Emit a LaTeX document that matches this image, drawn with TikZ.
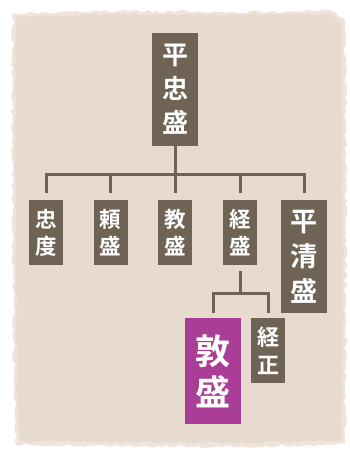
\documentclass[tikz,border=0pt]{standalone}
\usepackage{fontspec}
\newfontfamily\cjk{Noto Sans CJK JP}[BoldFont={* Bold}]
\usetikzlibrary{decorations.pathmorphing}
\definecolor{paper}{RGB}{231,218,206}
\definecolor{paperedge}{RGB}{238,228,218}
\definecolor{boxc}{RGB}{111,99,85}
\definecolor{purp}{RGB}{170,62,150}
\tikzset{
  conn/.style={draw=boxc, line width=3pt},
  person/.style={fill=boxc, text=white, inner sep=0pt, align=center,
    minimum width=34pt, minimum height=65pt,
    font=\cjk\bfseries\fontsize{21.5}{27}\selectfont},
  bigperson/.style={person, minimum width=46pt, minimum height=113pt,
    font=\cjk\bfseries\fontsize{26}{34}\selectfont},
}
\begin{document}
\begin{tikzpicture}[x=1pt,y=-1pt]
\useasboundingbox (0,0) rectangle (350,450);
\fill[white] (0,0) rectangle (350,450);
\pgfmathsetseed{7}
\fill[paperedge, decorate, decoration={random steps, segment length=4pt, amplitude=1.5pt}]
  (13,14) -- (120,11) -- (230,12) -- (332,11) -- (345,20) -- (346,120) -- (346,300) -- (345,444)
  -- (250,447) -- (120,446) -- (16,445) -- (14,380) -- (13,250) -- (12,120) -- cycle;
\fill[paper, decorate, decoration={random steps, segment length=5pt, amplitude=1pt}]
  (16,17) -- (120,14) -- (230,15) -- (330,14) -- (341,23) -- (342,120) -- (343,300) -- (341,440)
  -- (250,443) -- (120,442) -- (20,441) -- (17,380) -- (16,250) -- (15,120) -- cycle;

\node[bigperson] (tada) at (175,89.5) {平\\忠\\盛};
\node[person] (tadanori) at (46,232.5) {忠\\度};
\node[person] (yorimori) at (110.5,232.5) {頼\\盛};
\node[person] (norimori) at (175,232.5) {教\\盛};
\node[person] (tsunemori) at (240,232.5) {経\\盛};
\node[bigperson, font=\cjk\bfseries\fontsize{27}{35}\selectfont] (kiyomori) at (304,256.5) {平\\清\\盛};
\node[person, fill=purp, minimum width=56pt, minimum height=106pt,
  font=\cjk\bfseries\fontsize{35}{41}\selectfont] (atsumori) at (213,371) {敦\\盛};
\node[person, font=\cjk\bfseries\fontsize{22}{28}\selectfont] (tsunemasa) at (268,350.5) {経\\正};

\coordinate (bar) at (175,174);
\draw[conn] (tada.south) -- (bar);
\draw[conn, line cap=rect] (bar -| tadanori.north) -- (bar -| kiyomori.north);
\foreach \c in {tadanori,yorimori,norimori,tsunemori,kiyomori}
  \draw[conn, shorten >=7pt] (bar -| \c.north) -- (\c.north);

\coordinate (bar2) at (240,293);
\draw[conn, shorten <=6pt] (tsunemori.south) -- (bar2);
\draw[conn, line cap=rect] (bar2 -| atsumori.north) -- (bar2 -| tsunemasa.north);
\foreach \c in {atsumori,tsunemasa}
  \draw[conn, shorten >=5pt] (bar2 -| \c.north) -- (\c.north);
\end{tikzpicture}
\end{document}
